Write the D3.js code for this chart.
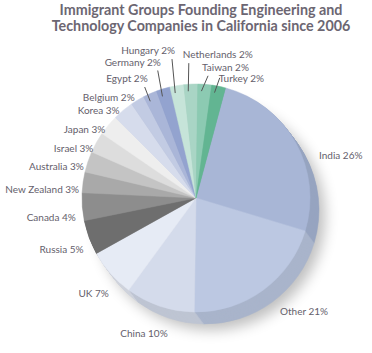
<!DOCTYPE html>
<html>
<head>
<meta charset="utf-8">
<script src="https://cdn.jsdelivr.net/npm/d3@7"></script>
<style>
  body { margin: 0; background: #fff; }
  text { font-family: Lato, "Open Sans", sans-serif; }
</style>
</head>
<body>
<script>
// slice data, clockwise from India
const groups = ["India", "Other", "China", "UK", "Russia", "Canada", "New Zealand", "Australia",
  "Israel", "Japan", "Korea", "Belgium", "Egypt", "Germany", "Hungary", "Netherlands", "Taiwan", "Turkey"]
const shares = [26, 21, 10, 7, 5, 4, 3, 3, 3, 3, 3, 2, 2, 2, 2, 2, 2, 2]
const colors = ["#a8b6d6", "#bcc8e2", "#d4dbeb", "#e6ebf5", "#6e6e6e", "#8d8d8d", "#a9a9a9", "#c4c4c4",
  "#dddddd", "#eeeeee", "#d6dcec", "#c2cbe3", "#aab6d8", "#93a3cf", "#c6e4d9", "#a9d5c5", "#8ccab2", "#62b592"]
const titleLines = ["Immigrant Groups Founding Engineering and", "Technology Companies in California since 2006"]
// which labels get a leader line, and where it leaves the label
const leaders = { Egypt: "right", Germany: "right", Hungary: "right", Netherlands: "left", Taiwan: "left", Turkey: "side" }

// label placement: angle shift (deg) from slice middle, distance from centre
const labelTweak = [[12.6, 151], [-7.3, 157], [2.5, 145], [-1.5, 140], [-0.7, 144], [-3.1, 146],
  [-4.9, 154], [-6, 143], [-7.1, 132], [-8, 131], [-8.3, 131], [-10.1, 133], [-6.2, 138],
  [-8.2, 150], [-8.3, 155], [11.3, 145], [8.3, 134], [9.3, 128]]

const w = 372, h = 353
const cx = 196, cy = 198, r = 114
const depthX = 9, depthY = 12

const svg = d3.select("body").append("svg")
  .attr("width", w)
  .attr("height", h)

const defs = svg.append("defs")
defs.append("filter")
  .attr("id", "shadow")
  .attr("x", "-30%").attr("y", "-30%").attr("width", "160%").attr("height", "160%")
  .append("feGaussianBlur")
  .attr("stdDeviation", 7)

svg.append("g")
  .attr("class", "title")
  .selectAll("text")
  .data(titleLines)
  .enter()
  .append("text")
  .attr("x", 201)
  .attr("y", (d, i) => 15 + i * 15.5)
  .attr("text-anchor", "middle")
  .attr("font-size", 14.3)
  .attr("font-weight", 700)
  .attr("fill", "#6c6672")
  .text(d => d)

const data = groups.map((g, i) => ({ name: g, value: shares[i], color: colors[i], tweak: labelTweak[i] }))

const pie = d3.pie()
  .sort(null)
  .value(d => d.value)
  .startAngle(15 * Math.PI / 180)
  .endAngle(375 * Math.PI / 180)

const arcs = pie(data)
const arc = d3.arc().innerRadius(0).outerRadius(r)

// drop shadow
svg.append("circle")
  .attr("cx", cx + depthX + 6)
  .attr("cy", cy + depthY + 6)
  .attr("r", r)
  .attr("fill", "#000")
  .attr("opacity", 0.25)
  .attr("filter", "url(#shadow)")

// side of the pie
const steps = 12
for (let k = steps; k >= 1; k--) {
  svg.append("g")
    .attr("transform", `translate(${cx + depthX * k / steps},${cy + depthY * k / steps})`)
    .selectAll("path")
    .data(arcs)
    .enter()
    .append("path")
    .attr("d", arc)
    .attr("fill", d => d3.color(d.data.color).darker(0.3))
    .attr("stroke", d => d3.color(d.data.color).darker(0.3))
    .attr("stroke-width", 0.5)
}

// top face
svg.append("g")
  .attr("transform", `translate(${cx},${cy})`)
  .selectAll("path")
  .data(arcs)
  .enter()
  .append("path")
  .attr("d", arc)
  .attr("fill", d => d.data.color)
  .attr("stroke", d => d.data.color)
  .attr("stroke-width", 0.5)

const polar = (a, dist) => [cx + dist * Math.sin(a), cy - dist * Math.cos(a)]
const midAngle = d => (d.startAngle + d.endAngle) / 2

const labels = svg.append("g").attr("class", "labels")

arcs.forEach(d => {
  const a = midAngle(d) + d.data.tweak[0] * Math.PI / 180
  const p = polar(a, d.data.tweak[1])
  const baseline = p[1] + 3.5
  const t = labels.append("text")
    .attr("x", p[0])
    .attr("y", baseline)
    .attr("text-anchor", "middle")
    .attr("font-size", 10)
    .attr("fill", "#645e6b")
    .text(d.data.name + " " + d.data.value + "%")
  const side = leaders[d.data.name]
  if (side) {
    const half = t.node().getComputedTextLength() / 2
    const inner = polar(midAngle(d) - 1.5 * Math.PI / 180, r - 7)
    let start
    if (side === "right") start = [p[0] + half - 3, baseline + 5]
    else if (side === "left") start = [p[0] - half + 6, baseline + 5]
    else start = [p[0] - half + 1, baseline - 4]
    labels.append("line")
      .attr("x1", start[0])
      .attr("y1", start[1])
      .attr("x2", inner[0])
      .attr("y2", inner[1])
      .attr("stroke", "#555")
      .attr("stroke-width", 1)
  }
})
</script>
</body>
</html>
